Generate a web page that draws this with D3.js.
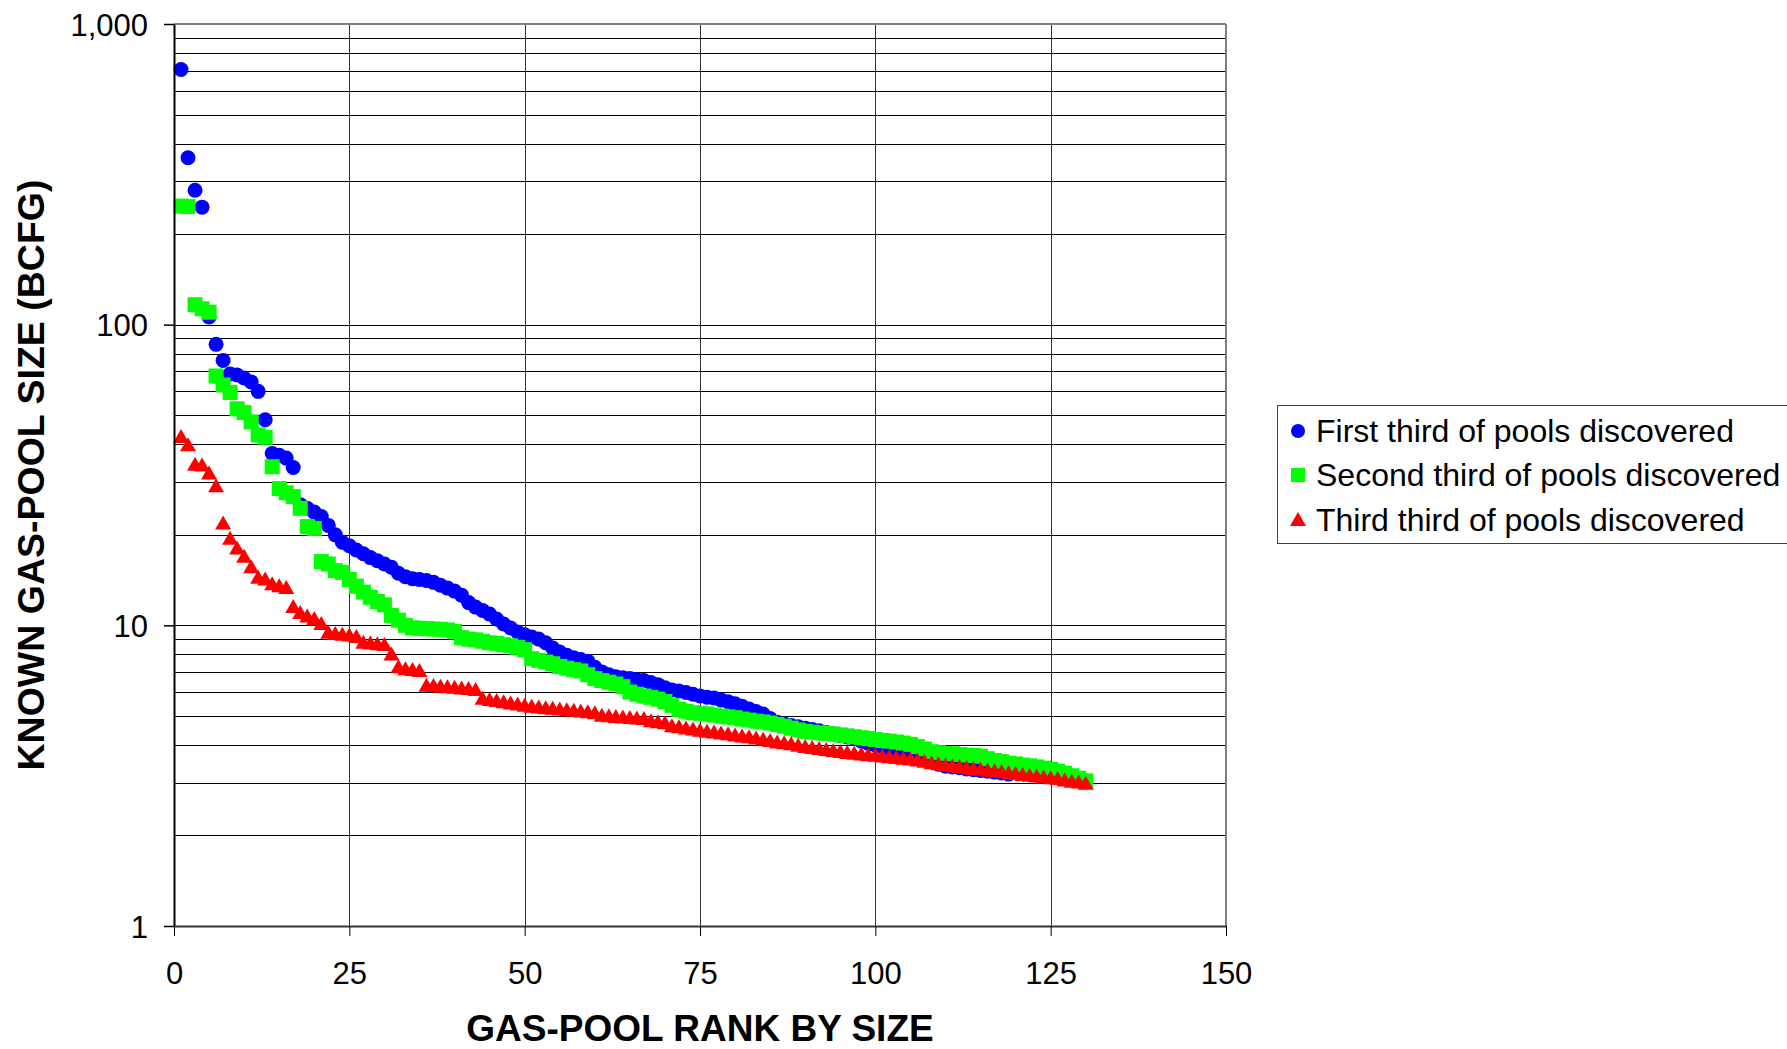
<!DOCTYPE html>
<html><head><meta charset="utf-8">
<script src="https://cdn.jsdelivr.net/npm/d3@7"></script>
<style>
body{margin:0;background:#fff}
svg{display:block}
text{font-family:"Liberation Sans",Arial,Helvetica,sans-serif}
</style>
</head><body>
<svg id="chart" width="1787" height="1049"></svg>
<script>
// Values per rank (rank = index + 1), BCFG
const firstThird = [706,359,280,246,106,86,76,68.5,68,66.5,64.5,60,48.3,37.3,36.8,36,33.5,25.2,24.5,23.8,
  23.0,21.5,20.0,18.9,18.4,17.8,17.3,16.8,16.4,16.0,15.6,14.9,14.5,14.3,14.2,14.1,13.9,13.6,13.3,13.0,
  12.6,11.9,11.5,11.2,10.9,10.5,10.1,9.8,9.5,9.3,9.15,9.0,8.75,8.4,8.15,7.95,7.8,7.7,7.6,7.25,
  7.0,6.85,6.75,6.7,6.65,6.6,6.55,6.45,6.35,6.2,6.1,6.05,5.98,5.9,5.82,5.77,5.73,5.65,5.57,5.48,
  5.38,5.27,5.17,5.07,4.9,4.76,4.7,4.64,4.6,4.55,4.5,4.46,4.4,4.35,4.3,4.25,4.2,4.12,4.05,4.0,
  3.95,3.9,3.85,3.78,3.72,3.65,3.58,3.52,3.45,3.40,3.38,3.36,3.33,3.31,3.29,3.27,3.25,3.23,3.2,3.24,
  3.22,3.2,3.18,3.16,3.14,3.12,3.1,3.08,3.05,3.02];
const secondThird = [248,247,116.5,113,110,67.5,63,59.5,52.5,51,47.5,43,42.2,33.7,28.5,27.6,26.8,24.5,21.3,21.0,
  16.3,16.0,15.2,15.0,14.2,13.5,12.9,12.4,12.0,11.7,10.8,10.4,10.0,9.8,9.78,9.75,9.72,9.7,9.65,9.55,
  9.1,9.0,8.95,8.85,8.75,8.7,8.62,8.55,8.45,8.3,7.75,7.65,7.55,7.45,7.3,7.2,7.12,7.05,6.85,6.65,
  6.55,6.47,6.38,6.25,6.0,5.9,5.82,5.76,5.68,5.58,5.42,5.25,5.18,5.12,5.1,5.07,5.03,4.99,4.96,4.93,
  4.88,4.84,4.8,4.77,4.73,4.68,4.62,4.55,4.49,4.44,4.41,4.39,4.37,4.35,4.32,4.29,4.26,4.23,4.2,4.17,
  4.14,4.12,4.09,4.06,4.02,3.95,3.88,3.8,3.77,3.75,3.74,3.72,3.7,3.69,3.67,3.6,3.55,3.52,3.48,3.46,
  3.43,3.41,3.38,3.35,3.32,3.27,3.22,3.16,3.1,3.04];
const thirdThird = [42.3,39.7,34.2,34.0,32.0,29.0,21.8,19.4,18.0,16.9,15.6,14.4,14.2,13.7,13.5,13.3,11.5,11.0,10.7,10.5,
  10.1,9.45,9.35,9.3,9.25,9.15,8.75,8.7,8.65,8.6,8.0,7.25,7.15,7.1,7.05,6.3,6.28,6.25,6.22,6.2,
  6.17,6.14,6.1,5.7,5.65,5.6,5.55,5.5,5.45,5.4,5.36,5.33,5.3,5.28,5.25,5.22,5.2,5.17,5.14,5.1,
  5.0,4.98,4.96,4.94,4.92,4.9,4.88,4.8,4.76,4.72,4.62,4.58,4.54,4.5,4.46,4.43,4.4,4.37,4.34,4.3,
  4.27,4.24,4.2,4.16,4.12,4.08,4.05,4.02,3.98,3.94,3.91,3.88,3.85,3.82,3.79,3.76,3.74,3.72,3.7,3.68,
  3.66,3.64,3.62,3.6,3.58,3.55,3.52,3.48,3.45,3.42,3.4,3.38,3.35,3.33,3.31,3.29,3.27,3.25,3.22,3.2,
  3.18,3.16,3.14,3.12,3.1,3.08,3.05,3.02,3.0,2.97];

const seriesNames = ["First third of pools discovered","Second third of pools discovered","Third third of pools discovered"];
const seriesColors = ["#0000ff","#00ff00","#ff0000"];
const xTicks = [0,25,50,75,100,125,150];
const yTicks = [1,10,100,1000];
const xTitle = "GAS-POOL RANK BY SIZE";
const yTitle = "KNOWN GAS-POOL SIZE (BCFG)";

const svg = d3.select("#chart");
const x = d3.scaleLinear().domain([0,150]).range([174,1226]);
const y = d3.scaleLog().domain([1,1000]).range([926,24]);

// horizontal grid (log minor + major)
svg.append("g").selectAll("line").data(y.ticks()).join("line")
  .attr("x1", x(0)).attr("x2", x(150))
  .attr("y1", d => Math.round(y(d)) + 0.5).attr("y2", d => Math.round(y(d)) + 0.5)
  .attr("stroke", "#000").attr("stroke-width", 1);
// vertical grid
svg.append("g").selectAll("line").data(xTicks.slice(1, -1)).join("line")
  .attr("x1", d => Math.round(x(d)) + 0.5).attr("x2", d => Math.round(x(d)) + 0.5)
  .attr("y1", y(1000)).attr("y2", y(1))
  .attr("stroke", "#333").attr("stroke-width", 1);

// markers
const shapes = [
  g => g.append("circle").attr("r", 7.5),
  g => g.append("rect").attr("x", -7.5).attr("y", -7.5).attr("width", 15).attr("height", 15),
  g => g.append("path").attr("d", "M0,-8L8,6L-8,6Z")
];
[firstThird, secondThird, thirdThird].forEach((vals, si) => {
  const g = svg.append("g").attr("fill", seriesColors[si]);
  vals.forEach((v, i) => {
    const m = g.append("g").attr("transform", `translate(${x(i + 1)},${y(v)})`);
    shapes[si](m);
  });
});

// frame: top and right gray
svg.append("line").attr("x1", x(0)).attr("x2", x(150)).attr("y1", y(1000)).attr("y2", y(1000))
  .attr("stroke", "#808080").attr("stroke-width", 2);
svg.append("line").attr("x1", x(150)).attr("x2", x(150)).attr("y1", y(1000)).attr("y2", y(1))
  .attr("stroke", "#808080").attr("stroke-width", 2);

// axes
const yAxis = d3.axisLeft(y).tickValues(yTicks).tickFormat(d3.format(",")).tickSize(10).tickSizeOuter(0).tickPadding(16);
const gy = svg.append("g").attr("transform", `translate(${x(0)},0)`).call(yAxis);
gy.select(".domain").attr("stroke", "#000").attr("stroke-width", 2);
gy.selectAll(".tick line").attr("stroke", "#000").attr("stroke-width", 1.5);
gy.selectAll(".tick text").attr("font-size", 31).attr("fill", "#000").attr("dy", "0.355em")
  .style("font-family", '"Liberation Sans",Arial,sans-serif');

const xAxis = d3.axisBottom(x).tickValues(xTicks).tickSize(10).tickSizeOuter(0).tickPadding(26);
const gx = svg.append("g").attr("transform", `translate(0,${y(1)})`).call(xAxis);
gx.select(".domain").attr("stroke", "#333").attr("stroke-width", 2);
gx.selectAll(".tick line").attr("stroke", "#000").attr("stroke-width", 1);
gx.selectAll(".tick text").attr("font-size", 31).attr("fill", "#000")
  .style("font-family", '"Liberation Sans",Arial,sans-serif');

// titles
svg.append("text").attr("x", (x(0) + x(150)) / 2).attr("y", 1041)
  .attr("text-anchor", "middle").attr("font-size", 37).attr("font-weight", "bold").text(xTitle);
svg.append("text").attr("transform", `translate(44,${(y(1) + y(1000)) / 2}) rotate(-90)`)
  .attr("text-anchor", "middle").attr("font-size", 37.5).attr("font-weight", "bold").text(yTitle);

// legend
const lg = svg.append("g");
lg.append("rect").attr("x", 1277.5).attr("y", 405.5).attr("width", 600).attr("height", 138)
  .attr("fill", "#fff").attr("stroke", "#404040").attr("stroke-width", 1);
const rowY = [431, 475, 520];
seriesNames.forEach((name, i) => {
  const m = lg.append("g").attr("fill", seriesColors[i]).attr("transform", `translate(1298,${rowY[i]})`);
  if (i === 0) m.append("circle").attr("r", 7);
  if (i === 1) m.append("rect").attr("x", -7).attr("y", -7).attr("width", 14).attr("height", 14);
  if (i === 2) m.append("path").attr("d", "M0,-8L8,6L-8,6Z");
  lg.append("text").attr("x", 1316).attr("y", rowY[i] + 11).attr("font-size", 32).attr("fill", "#000").text(name);
});
</script>
</body></html>
